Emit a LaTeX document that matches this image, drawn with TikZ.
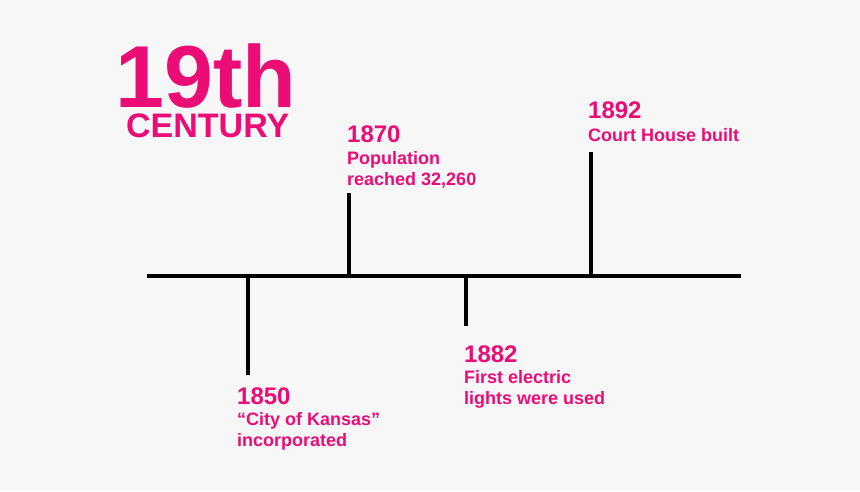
\documentclass[tikz,border=0pt]{standalone}
\usepackage{fontspec}
\setmainfont{Liberation Sans}
\definecolor{pink}{HTML}{EC0C76}
\definecolor{bg}{HTML}{F7F7F7}
\tikzset{
  yr/.style={anchor=base west, inner sep=0pt, text=pink, font=\bfseries\fontsize{24}{24}\selectfont},
  desc/.style={anchor=base west, inner sep=0pt, text=pink, font=\bfseries\fontsize{18}{21}\selectfont},
  bar/.style={line width=3.5pt, black}
}
\begin{document}
\begin{tikzpicture}[x=1pt,y=-1pt]
\fill[bg] (0,0) rectangle (860,491);
\useasboundingbox (0,0) rectangle (860,491);
\node[anchor=base west, inner sep=0pt, text depth=0pt, text=pink, font=\bfseries\fontsize{88}{88}\selectfont] (t1) at (115,107) {19th};
\node[anchor=base west, inner sep=0pt, text height=24.5pt, text=pink, font=\bfseries\fontsize{34}{34}\selectfont] (t2) at (126,137) {CENTURY};
\coordinate (L) at (147,276);
\coordinate (R) at (741,276);
\draw[bar] (L) -- (R);
\coordinate (a1) at (248,276); \coordinate (a2) at (248,375);
\coordinate (b1) at (349,276); \coordinate (b2) at (349,193);
\coordinate (c1) at (466,276); \coordinate (c2) at (466,326);
\coordinate (d1) at (591,276); \coordinate (d2) at (591,152);
\draw[bar] (a1) -- (a2);
\draw[bar] (b1) -- (b2);
\draw[bar] (c1) -- (c2);
\draw[bar] (d1) -- (d2);
\node[yr] (y1850) at (237,404) {1850};
\node[desc] (d1850a) at (237,425) {“City of Kansas”};
\node[desc] (d1850b) at (237,446) {incorporated};
\node[yr] (y1870) at (347,142) {1870};
\node[desc] (d1870a) at (347,164) {Population};
\node[desc] (d1870b) at (347,185) {reached 32,260};
\node[yr] (y1882) at (464,362) {1882};
\node[desc] (d1882a) at (464,383) {First electric};
\node[desc] (d1882b) at (464,404) {lights were used};
\node[yr] (y1892) at (588,118) {1892};
\node[desc] (d1892) at (588,141) {Court House built};
\end{tikzpicture}
\end{document}
